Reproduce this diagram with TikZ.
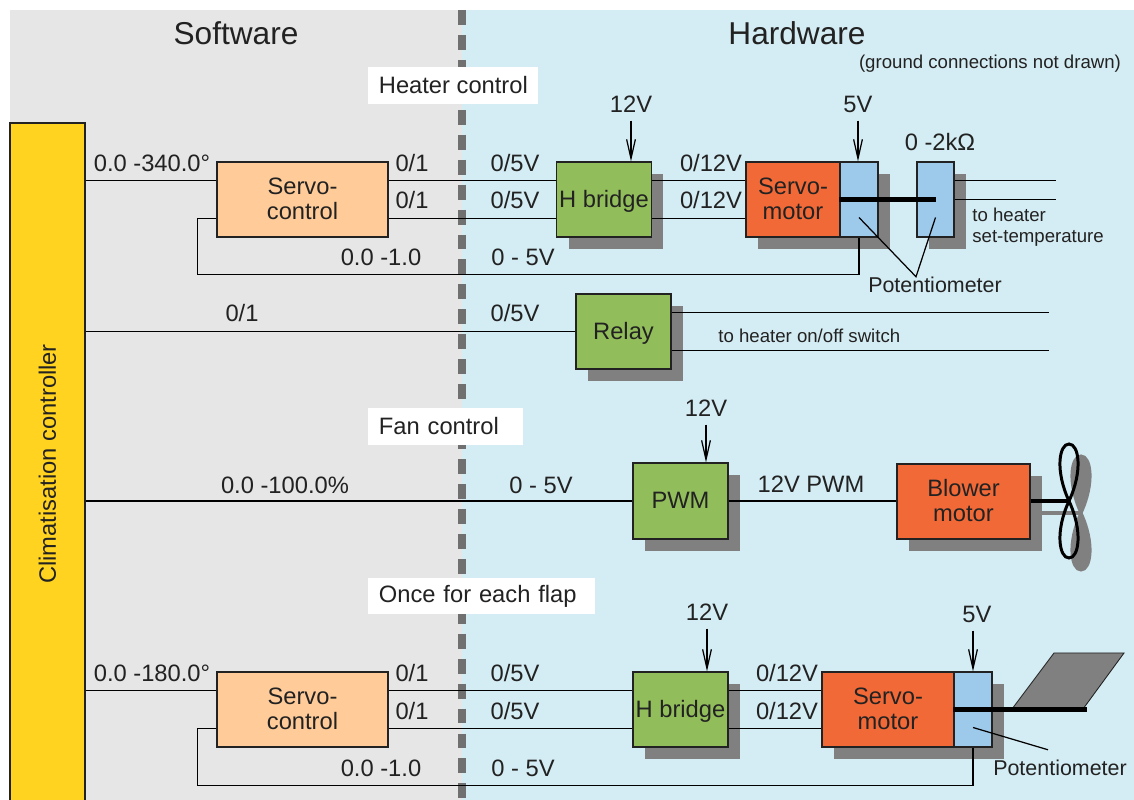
\documentclass[tikz,border=0pt]{standalone}
\usepackage{fontspec}
\setmainfont{Liberation Sans}
\usetikzlibrary{calc,shadows,arrows.meta}

\definecolor{swgray}{HTML}{E6E6E6}
\definecolor{hwblue}{HTML}{D4ECF3}
\definecolor{ctrlyellow}{HTML}{FFD320}
\definecolor{servopeach}{HTML}{FFCC99}
\definecolor{boxgreen}{HTML}{92BD5B}
\definecolor{motororange}{HTML}{F26938}
\definecolor{potblue}{HTML}{9DC9EB}
\definecolor{shadowgray}{HTML}{808080}
\definecolor{dividergray}{HTML}{707070}
\definecolor{ink}{HTML}{222222}

\tikzset{
  txt/.style={font=\fontsize{13.5}{14.5}\selectfont, text=ink, inner sep=0pt},
  smalltxt/.style={font=\fontsize{10.6}{12}\selectfont, text=ink, inner sep=0pt},
  headtxt/.style={font=\fontsize{18}{20}\selectfont, text=ink, inner sep=0pt},
  caption/.style={txt, fill=white, anchor=west, inner xsep=6pt, minimum height=0.74cm, align=left},
  wire/.style={draw=black, line width=0.7pt},
  shaft/.style={draw=black, line width=2.3pt},
  supply/.style={wire, shorten <=4.5pt, -{Straight Barb[length=11pt,width=5pt]}},
  shadowed/.style={drop shadow={shadow xshift=0.24cm, shadow yshift=-0.24cm, fill=shadowgray, opacity=1}},
  block/.style={txt, draw=ink, line width=0.7pt, align=center, minimum height=1.5cm, text depth=0.1em},
  servoctl/.style={block, fill=servopeach, minimum width=3.42cm},
  hwbox/.style={block, fill=boxgreen, shadowed, minimum width=1.9cm},
  motor/.style={block, fill=motororange, shadowed},
  pot/.style={block, fill=potblue, shadowed, minimum width=0.76cm},
  propeller/.pic={
    \path[pic actions] (0,0) .. controls (-14,-30) and (-10,-57) .. (0,-57)
      .. controls (10,-57) and (14,-30) .. (0,0)
      .. controls (-14,30) and (-10,57) .. (0,57)
      .. controls (10,57) and (14,30) .. (0,0);
  }
}

\begin{document}
\begin{tikzpicture}[x=0.02cm, y=-0.02cm]
  \useasboundingbox (0,0) rectangle (1134,800);

  % the two halves and the border between them
  \fill[swgray] (10,10) rectangle (462,800);
  \fill[hwblue] (462,10) rectangle (1134,800);
  \draw[dividergray, line width=4pt, dash pattern=on 8.5pt off 5.7pt] (462,10) -- (462,800);

  \node[headtxt] (sw) at (236,33) {Software};
  \node[headtxt] (hw) at (797,33) {Hardware};
  \node[smalltxt] (gnd) at (990,64) {(ground connections not drawn)};

  \node[caption] (heatcap) at (368,85.5) {Heater control};
  \node[caption, text width=2.68cm] (fancap) at (368,426.5) {Fan control};
  \node[caption, text width=4.12cm] (flapcap) at (368,596) {Once for each flap};

  % controller bar
  \node[draw=ink, line width=0.7pt, fill=ctrlyellow, minimum width=1.5cm, minimum height=13.64cm, inner sep=0pt] (ctrl) at (47.5,464) {};
  \node[txt, rotate=90] (ctrltxt) at (ctrl.center) {Climatisation controller};

  % heater: servo loop
  \node[servoctl] (sc1) at (302.5,199.5) {Servo-\\control};
  \node[hwbox] (hb1) at (604,199.5) {H bridge};
  \node[motor, minimum width=1.88cm] (sm1) at (793,199.5) {Servo-\\motor};
  \node[pot] (pa1) at (859,199.5) {};
  \node[pot, minimum width=0.74cm] (pb1) at (935.5,199.5) {};
  \coordinate (heatset) at (1056,180);

  \draw[wire] ([yshift=0.38cm]sc1.west -| ctrl.east) -- ([yshift=0.38cm]sc1.west);
  \draw[wire] ([yshift=0.38cm]sc1.east) -- ([yshift=0.38cm]sc1.east -| hb1.west);
  \draw[wire] ([yshift=-0.38cm]sc1.east) -- ([yshift=-0.38cm]sc1.east -| hb1.west);
  \draw[wire] ([yshift=0.38cm]hb1.east) -- ([yshift=0.38cm]hb1.east -| sm1.west);
  \draw[wire] ([yshift=-0.38cm]hb1.east) -- ([yshift=-0.38cm]hb1.east -| sm1.west);
  \draw[wire] ([yshift=-0.38cm]sc1.west) -- ++(-19,0) |- ([yshift=-0.74cm]pa1.south) -- (pa1.south);
  \draw[wire] ([yshift=0.38cm]pb1.east) -- ([yshift=0.38cm]pb1.east -| heatset);
  \draw[wire] (pb1.east) -- (pb1.east -| heatset);
  \draw[shaft] (pa1.west) -- (pb1.center);

  \node[txt] (l1) at (152,163) {0.0 -340.0°};
  \node[txt] (l2) at (412,163) {0/1};
  \node[txt] (l3) at (412,200) {0/1};
  \node[txt] (l4) at (515,163) {0/5V};
  \node[txt] (l5) at (515,200) {0/5V};
  \node[txt] (l6) at (381,257) {0.0 -1.0};
  \node[txt] (l7) at (523,257) {0 - 5V};
  \node[txt] (l8) at (711,163) {0/12V};
  \node[txt] (l9) at (711,200) {0/12V};
  \node[txt] (ohm) at (940,142) {0 -2kΩ};
  \node[smalltxt, anchor=west, align=left] (heatnote) at (972,227) {to heater\\set-temperature};
  \node[txt, font=\fontsize{12.2}{13}\selectfont] (pot1) at (935,285) {Potentiometer};
  \draw[wire] ($(pa1.center)+(0,18)$) -- ([xshift=-0.38cm]pot1.north) -- ($(pb1.center)+(0,18)$);

  \node[txt] (v12a) at (631,104) {12V};
  \draw[supply] (v12a.south) -- (v12a.south |- hb1.north);
  \node[txt] (v5a) at (858,104) {5V};
  \draw[supply] (v5a.south) -- (v5a.south |- pa1.north);

  % heater: on/off relay
  \node[hwbox] (relay) at (623.5,331.5) {Relay};
  \coordinate (onoff) at (1049,312);
  \draw[wire] (ctrl.east |- relay.west) -- (relay.west);
  \draw[wire] ([yshift=0.38cm]relay.east) -- ([yshift=0.38cm]relay.east -| onoff);
  \draw[wire] ([yshift=-0.38cm]relay.east) -- ([yshift=-0.38cm]relay.east -| onoff);
  \node[txt] (r1) at (242,313) {0/1};
  \node[txt] (r2) at (515,313) {0/5V};
  \node[smalltxt, anchor=west] (relaynote) at (718,336) {to heater on/off switch};

  % fan
  \coordinate (hub) at (1069,501);
  \pic[fill=shadowgray, draw=shadowgray, line width=1.7pt] at ($(hub)+(12,12)$) {propeller};
  \draw[shadowgray, line width=2.3pt] ($(hub)+(-30,12)$) -- ($(hub)+(12,12)$);
  \node[hwbox, minimum height=1.52cm] (pwm) at (680.5,501) {PWM};
  \node[motor, minimum width=2.66cm] (blower) at (963.5,501.5) {Blower\\motor};
  \draw[wire] (ctrl.east |- pwm.west) -- (pwm.west);
  \draw[wire] (pwm.east) -- (blower.west |- pwm.east);
  \draw[shaft] (blower.east |- hub) -- (hub);
  \pic[draw=black, line width=1.7pt] at (hub) {propeller};

  \node[txt] (f1) at (285,485) {0.0 -100.0\%};
  \node[txt] (f2) at (541,485) {0 - 5V};
  \node[txt] (f3) at (811,484) {12V PWM};
  \node[txt] (v12b) at (706,408) {12V};
  \draw[supply] (v12b.south) -- (v12b.south |- pwm.north);

  % flaps
  \node[servoctl] (sc2) at (302.5,709.5) {Servo-\\control};
  \node[hwbox] (hb2) at (680.5,709.5) {H bridge};
  \node[motor, minimum width=2.64cm] (sm2) at (888,709.5) {Servo-\\motor};
  \node[pot] (pa2) at (973,709.5) {};
  \coordinate (flaptip) at (1087,709.5);

  \draw[wire] ([yshift=0.38cm]sc2.west -| ctrl.east) -- ([yshift=0.38cm]sc2.west);
  \draw[wire] ([yshift=0.38cm]sc2.east) -- ([yshift=0.38cm]sc2.east -| hb2.west);
  \draw[wire] ([yshift=-0.38cm]sc2.east) -- ([yshift=-0.38cm]sc2.east -| hb2.west);
  \draw[wire] ([yshift=0.38cm]hb2.east) -- ([yshift=0.38cm]hb2.east -| sm2.west);
  \draw[wire] ([yshift=-0.38cm]hb2.east) -- ([yshift=-0.38cm]hb2.east -| sm2.west);
  \draw[wire] ([yshift=-0.38cm]sc2.west) -- ++(-19,0) |- ([yshift=-0.76cm]pa2.south) -- (pa2.south);

  \fill[shadowgray, draw=ink, line width=0.5pt] (1012,709) -- (1054,653) -- (1124,653) -- (1083,709) -- cycle;
  \draw[shaft] (pa2.west) -- (flaptip);

  \node[txt] (k1) at (152,673) {0.0 -180.0°};
  \node[txt] (k2) at (412,673) {0/1};
  \node[txt] (k3) at (412,711) {0/1};
  \node[txt] (k4) at (515,673) {0/5V};
  \node[txt] (k5) at (515,711) {0/5V};
  \node[txt] (k6) at (381,768) {0.0 -1.0};
  \node[txt] (k7) at (523,768) {0 - 5V};
  \node[txt] (k8) at (787,673) {0/12V};
  \node[txt] (k9) at (787,711) {0/12V};
  \node[txt, font=\fontsize{12.2}{13}\selectfont] (pot2) at (1060,768) {Potentiometer};
  \draw[wire] ($(pa2.center)+(0,18)$) -- ([shift={(-12,-10)}]pot2.north);

  \node[txt] (v12c) at (707,612) {12V};
  \draw[supply] (v12c.south) -- (v12c.south |- hb2.north);
  \node[txt] (v5b) at (977,614) {5V};
  \draw[supply] (v5b.south -| pa2.north) -- (pa2.north);
\end{tikzpicture}
\end{document}
